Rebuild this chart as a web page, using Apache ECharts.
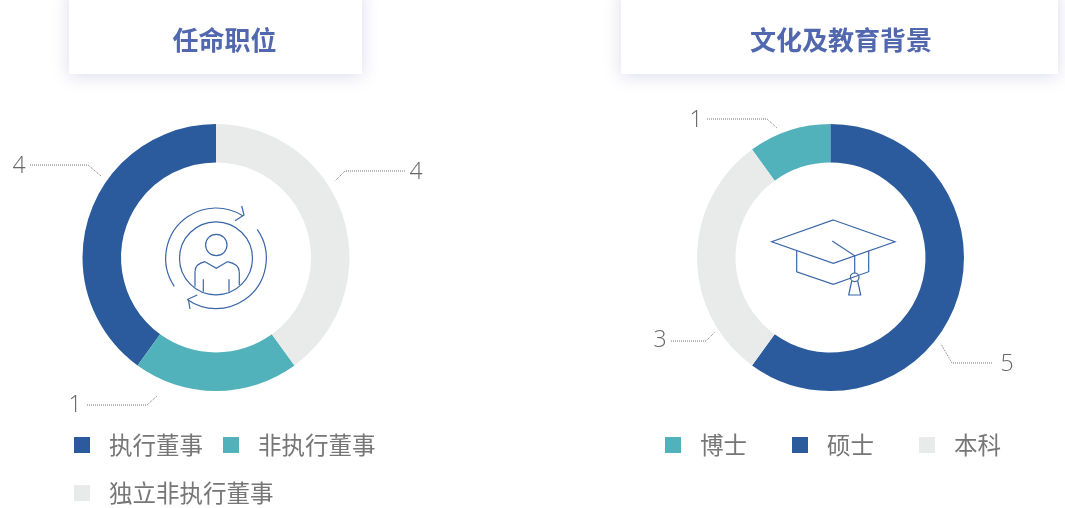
<!DOCTYPE html>
<html>
<head>
<meta charset="utf-8">
<style>
html, body { margin: 0; padding: 0; background: #fff; }
#main { width: 1065px; height: 508px; }
</style>
<script src="https://cdn.jsdelivr.net/npm/echarts@6/dist/echarts.min.js"></script>
</head>
<body>
<div id="main"></div>
<script>
// 任命职位
var roleNames = ['执行董事', '非执行董事', '独立非执行董事'];
var roleValues = [4, 1, 4];

// 文化及教育背景
// the reference prints 5 on the 硕士 slice but draws it as 60% of the ring, so slice size and label are kept apart
var eduNames = ['博士', '硕士', '本科'];
var eduShares = [1, 6, 3];
var eduLabels = ['1', '5', '3'];

var blue = '#2b5b9c', teal = '#52b2bc', grey = '#e9ebea';
var cnFont = '"Noto Sans CJK SC", sans-serif';
var numFont = '"Open Sans", sans-serif';
var iconColor = '#3a66a8';

// label centre + leader line, picture coordinates
var roleLeaders = [
	{ x: 19, y: 166, line: [[30, 165], [88, 165], [101, 176]] },
	{ x: 75, y: 405, line: [[87, 405], [147, 405], [157, 396]] },
	{ x: 416, y: 172, line: [[405, 171], [345, 171], [335, 181]] }
];
var eduLeaders = [
	{ x: 696, y: 120, line: [[707, 119], [767, 119], [777, 128]] },
	{ x: 1007, y: 364, line: [[992, 363], [952, 363], [941, 344]] },
	{ x: 660, y: 340, line: [[671, 341], [706, 341], [715, 332]] }
];

function layoutFrom(leaders) {
	return function (params) {
		var l = leaders[params.dataIndex];
		return { x: l.x, y: l.y, align: 'center', verticalAlign: 'middle', labelLinePoints: l.line };
	};
}

function toData(names, values, colors) {
	return names.map(function (n, i) {
		return { name: n, value: values[i], itemStyle: { color: colors[i] } };
	});
}

function titleBox(x, width) {
	return {
		type: 'rect',
		shape: { x: x, y: -10, width: width, height: 84 },
		style: { fill: '#fff', shadowBlur: 16, shadowColor: 'rgba(90,90,170,0.22)', shadowOffsetY: 2 }
	};
}

var iconStroke = { fill: 'none', stroke: iconColor, lineWidth: 1.2 };

function iconLine(points) {
	return { type: 'polyline', shape: { points: points }, style: iconStroke };
}

function iconPolygon(points) {
	return { type: 'polygon', shape: { points: points }, style: iconStroke };
}

function iconCircle(cx, cy, r) {
	return { type: 'circle', shape: { cx: cx, cy: cy, r: r }, style: iconStroke };
}

function iconArc(cx, cy, r, fromDeg, toDeg) {
	return {
		type: 'arc',
		shape: { cx: cx, cy: cy, r: r, startAngle: fromDeg * Math.PI / 180, endAngle: toDeg * Math.PI / 180, clockwise: true },
		style: iconStroke
	};
}

function iconCurve(x1, y1, cx, cy, x2, y2) {
	return { type: 'bezierCurve', shape: { x1: x1, y1: y1, cpx1: cx, cpy1: cy, x2: x2, y2: y2 }, style: iconStroke };
}

var labelStyle = { fontFamily: numFont, fontWeight: 300, fontSize: 23, color: '#666' };
var lineStyle = { color: '#777', width: 1, type: 'dotted' };
var legendText = {
	fontFamily: cnFont, fontSize: 23.5, color: '#767676', padding: [0, 0, 2, 14], lineHeight: 26
};

var myChart = echarts.init(document.getElementById('main'));
var option = {
	animation: false,
	title: [{
		text: '任命职位',
		left: 219.5, top: 35, textAlign: 'center', textVerticalAlign: 'middle',
		textStyle: { fontFamily: cnFont, fontSize: 26, fontWeight: 'bold', color: '#5167ae' }
	}, {
		text: '文化及教育背景',
		left: 836, top: 35, textAlign: 'center', textVerticalAlign: 'middle',
		textStyle: { fontFamily: cnFont, fontSize: 26, fontWeight: 'bold', color: '#5167ae' }
	}],
	legend: [{
		data: roleNames,
		left: 74, top: 431, width: 320, padding: 0,
		itemWidth: 16, itemHeight: 16, itemGap: 20,
		icon: 'rect',
		textStyle: legendText
	}, {
		data: eduNames,
		left: 665, top: 431, padding: 0,
		itemWidth: 16, itemHeight: 16, itemGap: 45,
		icon: 'rect',
		textStyle: legendText
	}],
	series: [{
		name: '任命职位',
		type: 'pie',
		center: [216, 257.5],
		radius: [95, 133.5],
		clockwise: false,
		startAngle: 90,
		minAngle: 72,
		label: Object.assign({ formatter: '{c}' }, labelStyle),
		labelLine: { show: true, lineStyle: lineStyle },
		labelLayout: layoutFrom(roleLeaders),
		data: toData(roleNames, roleValues, [blue, teal, grey])
	}, {
		name: '文化及教育背景',
		type: 'pie',
		center: [830.5, 257.5],
		radius: [95, 133.5],
		startAngle: 126,
		label: Object.assign({
			formatter: function (p) { return eduLabels[p.dataIndex]; }
		}, labelStyle),
		labelLine: { show: true, lineStyle: lineStyle },
		labelLayout: layoutFrom(eduLeaders),
		data: toData(eduNames, eduShares, [teal, blue, grey])
	}],
	graphic: [
		titleBox(69, 293),
		titleBox(621, 437),
		// 人像图标
		iconCircle(216, 258.3, 36.5),
		iconCircle(216.3, 245, 10.7),
		iconLine([[195, 286.7], [195, 271.7]]),
		iconCurve(195, 271.7, 195, 264, 205, 261.7),
		iconLine([[205, 261.7], [216.3, 268.3], [227.3, 261.7]]),
		iconCurve(227.3, 261.7, 239, 264, 239.3, 271.7),
		iconLine([[239.3, 271.7], [239.3, 285]]),
		iconLine([[203.3, 279.3], [203.3, 291.7]]),
		iconLine([[229, 279.3], [229, 291.7]]),
		iconArc(216, 258.3, 50.3, 146, 302),
		iconLine([[241.7, 206], [244, 215], [235, 220.7]]),
		iconArc(216, 258.3, 50.3, -35, 125),
		iconLine([[197.3, 295], [188.3, 299], [190, 309]]),
		// 学士帽图标
		iconPolygon([[833.3, 220], [895, 241.7], [833.3, 263.3], [771.7, 241.7]]),
		iconLine([[796.7, 250.7], [796.7, 271.7], [833.3, 284.3], [868.7, 271.7], [868.7, 250.7]]),
		iconLine([[832.3, 241], [854.7, 255.7], [854.7, 273.3]]),
		iconCircle(854.7, 277.3, 4.3),
		iconLine([[851.7, 281], [848.7, 295], [860.7, 295], [857.7, 281]])
	]
};
myChart.setOption(option);
</script>
</body>
</html>
